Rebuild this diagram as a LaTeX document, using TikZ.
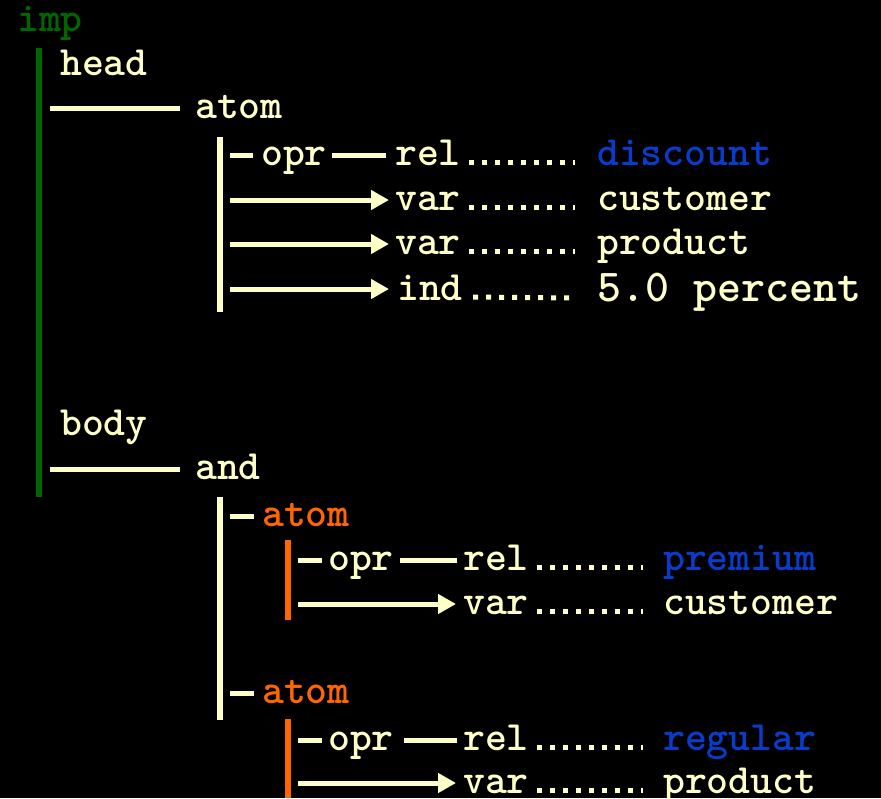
\documentclass[tikz,border=0pt]{standalone}
\usepackage{fontspec}
\usetikzlibrary{arrows.meta}
\definecolor{cream}{HTML}{FFFFC8}
\definecolor{impgreen}{HTML}{006600}
\definecolor{atomorange}{HTML}{FF6600}
\definecolor{relblue}{HTML}{0A3CCC}

\begin{document}
\begin{tikzpicture}[
  x=1pt, y=-1pt,
  term/.style={
    text=cream, inner sep=0pt, anchor=base west,
    font=\ttfamily\bfseries\fontsize{41.7}{44}\selectfont
  },
  big term/.style={
    term, font=\ttfamily\bfseries\fontsize{45.7}{48}\selectfont
  },
  link/.style={
    draw=cream, line width=5pt
  },
  arrow link/.style={
    link, -{Triangle[length=18pt, width=19pt]}
  },
  dots link/.style={
    draw=cream, line width=5pt, dash pattern=on 5pt off 8pt
  },
  bar/.style={
    line width=6pt
  }
  ]
  \fill[black] (0,0) rectangle (881,798);
  \useasboundingbox (0,0) rectangle (881,798);

  \coordinate (impTop) at (39,48);
  \coordinate (impBot) at (39,497);
  \coordinate (headTop) at (220,137);
  \coordinate (headBot) at (220,312);
  \coordinate (bodyTop) at (220,497);
  \coordinate (bodyBot) at (220,720);
  \coordinate (premTop) at (288,540);
  \coordinate (premBot) at (288,620);
  \coordinate (regTop) at (288,719);
  \coordinate (regBot) at (288,798);

  \node[term, text=impgreen] (imp) at (17,31) {imp};
  \node[term] (head) at (60,75) {head};
  \node[term] (atomA) at (195,118) {atom};
  \node[term] (oprA) at (261,165) {opr};
  \node[term] (relA) at (395,165) {rel};
  \node[term, text=relblue] (discount) at (597,165) {discount};
  \node[term] (varA) at (395,210) {var};
  \node[term] (customerA) at (597,210) {customer};
  \node[term] (varB) at (395,254) {var};
  \node[term] (productA) at (597,254) {product};
  \node[term] (indA) at (397,300) {ind};
  \node[big term] (percent) at (597,301) {5.0 percent};

  \node[term] (body) at (60,435) {body};
  \node[term] (andA) at (195,479) {and};
  \node[term, text=atomorange] (atomB) at (262,526) {atom};
  \node[term] (oprB) at (328,570) {opr};
  \node[term] (relB) at (463,570) {rel};
  \node[term, text=relblue] (premium) at (663,570) {premium};
  \node[term] (varC) at (463,614) {var};
  \node[term] (customerB) at (663,614) {customer};
  \node[term, text=atomorange] (atomC) at (262,703) {atom};
  \node[term] (oprC) at (328,750) {opr};
  \node[term] (relC) at (463,750) {rel};
  \node[term, text=relblue] (regular) at (663,750) {regular};
  \node[term] (varD) at (463,793) {var};
  \node[term] (productB) at (663,793) {product};

  \draw[bar, impgreen] (impTop) -- (impBot);
  \draw[bar, cream] (headTop) -- (headBot);
  \draw[bar, cream] (bodyTop) -- (bodyBot);
  \draw[bar, atomorange] (premTop) -- (premBot);
  \draw[bar, atomorange] (regTop) -- (regBot);

  \draw[link] ([xshift=11pt, yshift=10pt]impTop |- atomA.base west) -- ([xshift=-15pt, yshift=10pt]atomA.base west);
  \draw[link] ([xshift=11pt, yshift=10pt]impTop |- andA.base west) -- ([xshift=-15pt, yshift=10pt]andA.base west);

  \draw[link] ([xshift=10pt, yshift=10pt]headTop |- oprA.base west) -- ([xshift=-8pt, yshift=10pt]oprA.base west);
  \draw[link] ([xshift=5pt, yshift=10pt]oprA.base east) -- ([xshift=-9pt, yshift=10pt]relA.base west);
  \draw[arrow link] ([xshift=10pt, yshift=10pt]headTop |- varA.base west) -- ([xshift=-6pt, yshift=10pt]varA.base west);
  \draw[arrow link] ([xshift=10pt, yshift=10pt]headTop |- varB.base west) -- ([xshift=-6pt, yshift=10pt]varB.base west);
  \draw[arrow link] ([xshift=10pt, yshift=11pt]headTop |- indA.base west) -- ([xshift=-8pt, yshift=11pt]indA.base west);
  \draw[dots link] ([xshift=8pt, yshift=3pt]relA.base east) -- ([xshift=-22pt, yshift=3pt]discount.base west);
  \draw[dots link] ([xshift=8pt, yshift=3pt]varA.base east) -- ([xshift=-22pt, yshift=3pt]customerA.base west);
  \draw[dots link] ([xshift=8pt, yshift=3pt]varB.base east) -- ([xshift=-22pt, yshift=3pt]productA.base west);
  \draw[dots link] ([xshift=10pt, yshift=3pt]indA.base east) -- ([xshift=-22pt, yshift=3pt]percent.base west);

  \draw[link] ([xshift=10pt, yshift=10pt]bodyTop |- atomB.base west) -- ([xshift=-8pt, yshift=10pt]atomB.base west);
  \draw[link] ([xshift=10pt, yshift=10pt]bodyTop |- atomC.base west) -- ([xshift=-8pt, yshift=10pt]atomC.base west);

  \draw[link] ([xshift=10pt, yshift=10pt]premTop |- oprB.base west) -- ([xshift=-6pt, yshift=10pt]oprB.base west);
  \draw[link] ([xshift=6pt, yshift=10pt]oprB.base east) -- ([xshift=-6pt, yshift=10pt]relB.base west);
  \draw[arrow link] ([xshift=10pt, yshift=10pt]premTop |- varC.base west) -- ([xshift=-7pt, yshift=10pt]varC.base west);
  \draw[dots link] ([xshift=8pt, yshift=3pt]relB.base east) -- ([xshift=-20pt, yshift=3pt]premium.base west);
  \draw[dots link] ([xshift=8pt, yshift=3pt]varC.base east) -- ([xshift=-20pt, yshift=3pt]customerB.base west);

  \draw[link] ([xshift=10pt, yshift=10pt]regTop |- oprC.base west) -- ([xshift=-6pt, yshift=10pt]oprC.base west);
  \draw[link] ([xshift=10pt, yshift=10pt]oprC.base east) -- ([xshift=-6pt, yshift=10pt]relC.base west);
  \draw[arrow link] ([xshift=10pt, yshift=10pt]regTop |- varD.base west) -- ([xshift=-7pt, yshift=10pt]varD.base west);
  \draw[dots link] ([xshift=8pt, yshift=3pt]relC.base east) -- ([xshift=-20pt, yshift=3pt]regular.base west);
  \draw[dots link] ([xshift=8pt, yshift=3pt]varD.base east) -- ([xshift=-20pt, yshift=3pt]productB.base west);
\end{tikzpicture}
\end{document}
